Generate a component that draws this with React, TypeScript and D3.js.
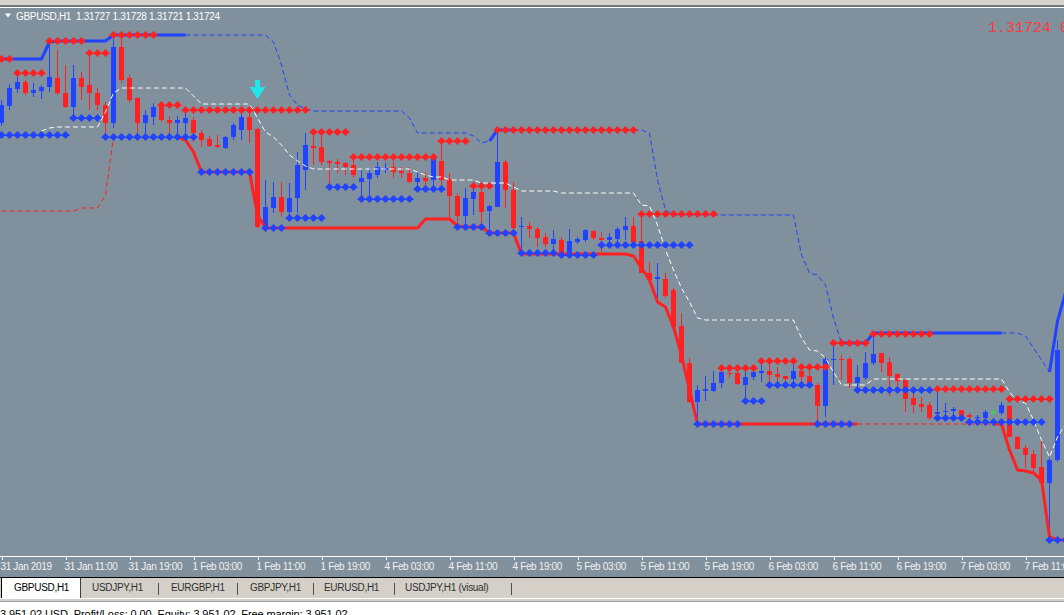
import { useEffect, useRef } from "react";
import * as d3 from "d3";

// GBPUSD H1, bars 0..132 (31 Jan 03:00 onwards)
const OPEN = [
  1.31335, 1.3142, 1.31505, 1.3154, 1.31485, 1.31495, 1.31515, 1.3156, 1.31485, 1.31415,
  1.3156, 1.31525, 1.31485, 1.31425, 1.31335, 1.31715, 1.3156, 1.3146, 1.31335, 1.31365,
  1.31415, 1.3135, 1.31335, 1.31335, 1.3135, 1.31285, 1.31255, 1.31225, 1.3121, 1.31265,
  1.313, 1.31365, 1.31305, 1.30815, 1.3091, 1.30965, 1.3089, 1.3096, 1.311, 1.3122,
  1.31215, 1.31145, 1.3114, 1.31135, 1.31125, 1.3104, 1.31055, 1.31075, 1.311, 1.31115,
  1.31095, 1.31085, 1.3104, 1.3106, 1.3105, 1.31145, 1.31055, 1.3097, 1.3087, 1.30955,
  1.3099, 1.30895, 1.30915, 1.3114, 1.31, 1.30815, 1.3082, 1.30805, 1.30765, 1.3073,
  1.3075, 1.30665, 1.3074, 1.3075, 1.30795, 1.3076, 1.3075, 1.30755, 1.308, 1.3082,
  1.30745, 1.30585, 1.30555, 1.30555, 1.305, 1.3032, 1.30135, 1.2994, 1.29995, 1.29995,
  1.30035, 1.30085, 1.30085, 1.30025, 1.30065, 1.30085, 1.30095, 1.3008, 1.3007, 1.30055,
  1.30095, 1.3007, 1.30025, 1.2992, 1.3015, 1.30155, 1.30155, 1.30035, 1.3006, 1.30135,
  1.30185, 1.3014, 1.3008, 1.3005, 1.2996, 1.2993, 1.29925, 1.2988, 1.2989, 1.29895,
  1.299, 1.29875, 1.2986, 1.2986, 1.2989, 1.29885, 1.2992, 1.29765, 1.2971, 1.2968,
  1.29615, 1.29535, 1.2965,
];
const HIGH = [
  1.3145, 1.3153, 1.31575, 1.3155, 1.31535, 1.31525, 1.31735, 1.317, 1.31625, 1.31625,
  1.3159, 1.31685, 1.3151, 1.3144, 1.3177, 1.31765, 1.31575, 1.31465, 1.314, 1.31435,
  1.31435, 1.3137, 1.3137, 1.3139, 1.31365, 1.313, 1.3127, 1.31275, 1.3127, 1.31335,
  1.31385, 1.314, 1.3131, 1.3105, 1.3104, 1.3104, 1.31035, 1.3119, 1.31285, 1.31285,
  1.31275, 1.3115, 1.31155, 1.3114, 1.31165, 1.311, 1.3111, 1.3114, 1.31135, 1.3114,
  1.31115, 1.31115, 1.3109, 1.3109, 1.31165, 1.31245, 1.31085, 1.30985, 1.3101, 1.31025,
  1.31025, 1.30925, 1.313, 1.3115, 1.3104, 1.30865, 1.3084, 1.30815, 1.30785, 1.308,
  1.30765, 1.30805, 1.30765, 1.30805, 1.308, 1.3079, 1.30785, 1.30815, 1.30865, 1.30865,
  1.30885, 1.3064, 1.30635, 1.30585, 1.3051, 1.30385, 1.3016, 1.30025, 1.3007, 1.30095,
  1.30115, 1.30115, 1.30115, 1.30115, 1.3011, 1.3014, 1.30125, 1.30115, 1.3007, 1.30135,
  1.30125, 1.30115, 1.30035, 1.30165, 1.30235, 1.30175, 1.30165, 1.30125, 1.3019, 1.30265,
  1.30185, 1.30165, 1.30085, 1.3005, 1.3001, 1.29965, 1.2994, 1.3, 1.29935, 1.29915,
  1.299, 1.29885, 1.29875, 1.299, 1.29905, 1.2994, 1.29925, 1.2977, 1.29725, 1.297,
  1.2975, 1.2966, 1.3025,
];
const LOW = [
  1.3132, 1.314, 1.31485, 1.31475, 1.31465, 1.31455, 1.3149, 1.31475, 1.3141, 1.31365,
  1.3145, 1.314, 1.314, 1.3126, 1.3131, 1.31535, 1.3144, 1.3128, 1.31285, 1.31325,
  1.3134, 1.31255, 1.31265, 1.31275, 1.3124, 1.31215, 1.31215, 1.3121, 1.31205, 1.3125,
  1.3125, 1.31235, 1.3081, 1.308, 1.30885, 1.30865, 1.30865, 1.30885, 1.31, 1.31125,
  1.31125, 1.3101, 1.31085, 1.31075, 1.3106, 1.3095, 1.3095, 1.3106, 1.31085, 1.3106,
  1.3106, 1.31035, 1.31, 1.31, 1.31, 1.31, 1.3085, 1.30815, 1.30815, 1.30875,
  1.30815, 1.30785, 1.30915, 1.3091, 1.3079, 1.3069, 1.3076, 1.30715, 1.30715, 1.30685,
  1.3066, 1.3066, 1.3073, 1.3074, 1.3075, 1.3069, 1.30735, 1.30735, 1.3075, 1.30735,
  1.30585, 1.30525, 1.3045, 1.3046, 1.3031, 1.30135, 1.29935, 1.2983, 1.29945, 1.2999,
  1.3001, 1.3006, 1.30025, 1.2994, 1.3005, 1.3004, 1.30025, 1.30025, 1.30025, 1.30025,
  1.30025, 1.3001, 1.29825, 1.29865, 1.30025, 1.3005, 1.3001, 1.3, 1.3005, 1.30125,
  1.3009, 1.2997, 1.3002, 1.2989, 1.29885, 1.2989, 1.2985, 1.29865, 1.29875, 1.29865,
  1.2985, 1.29835, 1.29845, 1.29855, 1.29875, 1.29875, 1.29765, 1.29705, 1.2961, 1.29585,
  1.29535, 1.2925, 1.2964,
];
const CLOSE = [
  1.31425, 1.3151, 1.3154, 1.31485, 1.315, 1.31515, 1.31565, 1.31485, 1.31415, 1.3156,
  1.31515, 1.31485, 1.31425, 1.31335, 1.31715, 1.3155, 1.3145, 1.31335, 1.31375, 1.31415,
  1.3135, 1.31335, 1.3135, 1.3136, 1.31285, 1.3125, 1.3122, 1.31215, 1.31265, 1.31325,
  1.31365, 1.313, 1.30815, 1.30915, 1.30965, 1.3089, 1.3096, 1.31125, 1.31225, 1.3121,
  1.3114, 1.31135, 1.3113, 1.31115, 1.31075, 1.3106, 1.31085, 1.31115, 1.3111, 1.3109,
  1.31085, 1.3104, 1.3106, 1.31045, 1.31155, 1.3105, 1.3097, 1.3087, 1.3096, 1.3099,
  1.3089, 1.3092, 1.3114, 1.31, 1.3081, 1.3082, 1.30805, 1.3076, 1.3073, 1.30755,
  1.30665, 1.30745, 1.30755, 1.308, 1.3076, 1.3075, 1.30765, 1.30805, 1.3082, 1.3074,
  1.30585, 1.3055, 1.30565, 1.3047, 1.30315, 1.30135, 1.2994, 1.3, 1.30005, 1.30035,
  1.3009, 1.3008, 1.3003, 1.30065, 1.3009, 1.30095, 1.30075, 1.30065, 1.30055, 1.30095,
  1.30065, 1.30025, 1.2992, 1.30155, 1.30155, 1.3015, 1.30035, 1.30065, 1.30135, 1.3018,
  1.30135, 1.3007, 1.30045, 1.29955, 1.29925, 1.29915, 1.2986, 1.2989, 1.29895, 1.29905,
  1.2987, 1.29865, 1.29865, 1.2989, 1.2989, 1.29925, 1.29765, 1.29705, 1.29675, 1.2961,
  1.29535, 1.2965, 1.302,
];

// channel indicator, bars 0..133
const UPPER = [
  1.31655, 1.31655, 1.31655, 1.31655, 1.31655, 1.31655, 1.3174, 1.31745, 1.31745, 1.31745,
  1.31745, 1.31745, 1.31745, 1.31745, 1.31775, 1.31775, 1.31775, 1.31775, 1.31775, 1.31775,
  1.31775, 1.31775, 1.31775, 1.31775, 1.31775, 1.31775, 1.31775, 1.31775, 1.31775, 1.31775,
  1.31775, 1.31775, 1.31775, 1.31775, 1.3174, 1.31625, 1.31475, 1.31425, 1.31405, 1.31395,
  1.31395, 1.31395, 1.31395, 1.31395, 1.31395, 1.31395, 1.31395, 1.31395, 1.31395, 1.31395,
  1.31395, 1.3136, 1.31285, 1.31285, 1.31285, 1.31285, 1.31285, 1.31285, 1.31285, 1.3127,
  1.31235, 1.31245, 1.313, 1.313, 1.313, 1.313, 1.313, 1.313, 1.313, 1.313,
  1.313, 1.313, 1.313, 1.313, 1.313, 1.313, 1.313, 1.313, 1.313, 1.313,
  1.313, 1.31285, 1.3105, 1.309, 1.30875, 1.30875, 1.30875, 1.30875, 1.30875, 1.30875,
  1.30875, 1.30875, 1.30875, 1.30875, 1.30875, 1.30875, 1.30875, 1.30875, 1.30875, 1.30875,
  1.30675, 1.30585, 1.30575, 1.30525, 1.3036, 1.30235, 1.30235, 1.30235, 1.30235, 1.30285,
  1.30285, 1.30285, 1.30285, 1.30285, 1.30285, 1.30285, 1.30285, 1.30285, 1.30285, 1.30285,
  1.30285, 1.30285, 1.30285, 1.30285, 1.30285, 1.30285, 1.30285, 1.30285, 1.3027, 1.3021,
  1.3015, 1.3009, 1.30345, 1.30485,
];
const LOWER = [
  1.30895, 1.30895, 1.30895, 1.30895, 1.30895, 1.30895, 1.30895, 1.30895, 1.30895, 1.30895,
  1.3091, 1.3091, 1.3091, 1.30975, 1.31265, 1.31265, 1.31265, 1.31265, 1.31265, 1.31265,
  1.31265, 1.31265, 1.31265, 1.3125, 1.3119, 1.3109, 1.3109, 1.3109, 1.3109, 1.3109,
  1.3109, 1.3109, 1.30875, 1.3081, 1.3081, 1.3081, 1.3081, 1.3081, 1.3081, 1.3081,
  1.3081, 1.3081, 1.3081, 1.3081, 1.3081, 1.3081, 1.3081, 1.3081, 1.3081, 1.3081,
  1.3081, 1.3081, 1.3081, 1.30855, 1.30855, 1.30855, 1.30855, 1.3082, 1.30815, 1.30815,
  1.30815, 1.30785, 1.30785, 1.30785, 1.30785, 1.3068, 1.3068, 1.3068, 1.3068, 1.3068,
  1.3068, 1.3068, 1.3068, 1.3068, 1.3068, 1.3068, 1.3068, 1.3068, 1.3068, 1.3067,
  1.3061, 1.3055, 1.3044, 1.30415, 1.30315, 1.30175, 1.3, 1.2983, 1.2983, 1.2983,
  1.2983, 1.2983, 1.2983, 1.2983, 1.2983, 1.2983, 1.2983, 1.2983, 1.2983, 1.2983,
  1.2983, 1.2983, 1.2983, 1.2983, 1.2983, 1.2983, 1.2983, 1.2983, 1.2983, 1.2983,
  1.2983, 1.2983, 1.2983, 1.2983, 1.2983, 1.2983, 1.2983, 1.2983, 1.2983, 1.2983,
  1.2983, 1.2983, 1.2983, 1.2983, 1.2983, 1.2983, 1.297, 1.296, 1.29595, 1.29585,
  1.2955, 1.29265, 1.2925, 1.2925,
];
const MIDDLE: (number | null)[] = [
  null, null, null, null, null, 1.31295, 1.3131, 1.31315, 1.31315, 1.31315,
  1.31315, 1.31315, 1.31315, 1.3139, 1.31485, 1.3151, 1.3151, 1.3151, 1.3151, 1.3151,
  1.3151, 1.3151, 1.3151, 1.3151, 1.3147, 1.3143, 1.3143, 1.3143, 1.3143, 1.3143,
  1.3143, 1.3143, 1.3136, 1.3129, 1.31265, 1.31225, 1.31175, 1.31145, 1.3112, 1.31105,
  1.31105, 1.31105, 1.31105, 1.31105, 1.31105, 1.31105, 1.31105, 1.31105, 1.31105, 1.31105,
  1.31105, 1.31105, 1.3109, 1.31075, 1.31065, 1.31065, 1.3105, 1.3105, 1.3105, 1.3105,
  1.31035, 1.31035, 1.31035, 1.31035, 1.31015, 1.30995, 1.30995, 1.30995, 1.30995, 1.30995,
  1.30985, 1.30985, 1.30985, 1.30985, 1.30985, 1.30985, 1.30985, 1.30985, 1.30985, 1.30985,
  1.30925, 1.3092, 1.30825, 1.307, 1.306, 1.3051, 1.3044, 1.3036, 1.3035, 1.3035,
  1.3035, 1.3035, 1.3035, 1.3035, 1.3035, 1.3035, 1.3035, 1.3035, 1.3035, 1.3035,
  1.3026, 1.302, 1.30195, 1.3016, 1.3009, 1.30025, 1.30025, 1.30025, 1.30025, 1.30055,
  1.30055, 1.30055, 1.30055, 1.30055, 1.30055, 1.30055, 1.30055, 1.30055, 1.30055, 1.30055,
  1.30055, 1.30055, 1.30055, 1.30055, 1.30055, 1.30055, 1.2999, 1.29945, 1.29935, 1.2985,
  1.2975, 1.29665, 1.29765, 1.2983,
];

// bar ranges where the channel lines are active (drawn solid)
const UPPER_ACTIVE: [number, number][] = [[0, 23], [61, 64], [105, 125], [131, 133]];
const LOWER_ACTIVE: [number, number][] = [[22, 107], [124, 133]];

// [first bar, last bar, price]
const RESISTANCE: [number, number, number][] = [
  [0, 1, 1.31655], [2, 5, 1.31585], [6, 10, 1.31745], [11, 13, 1.31685], [14, 19, 1.31775],
  [20, 22, 1.31425], [23, 38, 1.314], [39, 43, 1.3129], [44, 54, 1.31165], [55, 58, 1.31245],
  [59, 61, 1.3102], [62, 79, 1.313], [80, 89, 1.3088], [90, 94, 1.3011], [95, 99, 1.30145],
  [100, 103, 1.30115], [104, 108, 1.30235], [109, 116, 1.3028], [117, 125, 1.30005],
  [126, 131, 1.29955],
];
const SUPPORT: [number, number, number][] = [
  [0, 8, 1.31275], [9, 12, 1.3136], [13, 24, 1.31265], [25, 31, 1.3109], [33, 35, 1.3081],
  [36, 40, 1.3086], [41, 44, 1.31015], [45, 51, 1.30955], [52, 55, 1.31005], [57, 60, 1.30815],
  [61, 64, 1.30785], [65, 69, 1.30685], [70, 74, 1.30675], [75, 86, 1.30725], [87, 92, 1.2983],
  [93, 95, 1.29945], [96, 101, 1.30025], [102, 106, 1.2983], [107, 116, 1.3], [117, 120, 1.2986],
  [121, 130, 1.2984], [131, 133, 1.2925],
];

const SELL_SIGNAL_BAR = 32;
const SELL_SIGNAL_PRICE = 1.31455;

const TIME_BARS = [0, 8, 16, 24, 32, 40, 48, 56, 64, 72, 80, 88, 96, 104, 112, 120, 128];
const TIME_LABELS = [
  "31 Jan 2019", "31 Jan 11:00", "31 Jan 19:00", "1 Feb 03:00", "1 Feb 11:00", "1 Feb 19:00",
  "4 Feb 03:00", "4 Feb 11:00", "4 Feb 19:00", "5 Feb 03:00", "5 Feb 11:00", "5 Feb 19:00",
  "6 Feb 03:00", "6 Feb 11:00", "6 Feb 19:00", "7 Feb 03:00", "7 Feb 11:00",
];
const TABS = ["GBPUSD,H1", "USDJPY,H1", "EURGBP,H1", "GBPJPY,H1", "EURUSD,H1", "USDJPY,H1 (visual)"];
const HEADER_OHLC = ["1.31727", "1.31728", "1.31721", "1.31724"];

const BG = "#80909c";
const RED = "#ff2121";
const BLUE = "#2142ff";
const FONT = "'Liberation Sans', Arial, sans-serif";

function splitRanges(active: [number, number][], last: number) {
  const out: { a: number; b: number; solid: boolean }[] = [];
  let prev = 0;
  active.forEach(([a, b]) => {
    if (a > prev) out.push({ a: prev, b: a, solid: false });
    out.push({ a, b, solid: true });
    prev = b;
  });
  if (prev < last) out.push({ a: prev, b: last, solid: false });
  return out;
}

export default function App() {
  const svgRef = useRef<SVGSVGElement>(null);

  useEffect(() => {
    if (!svgRef.current) return;
    document.body.style.margin = "0";

    const width = 1064;
    const height = 615;
    const svg = d3.select(svgRef.current);
    svg.selectAll("*").remove();

    const x = d3.scaleLinear().domain([0, 133]).range([1.5, 1065.5]);
    const y = d3.scaleLinear().domain([1.2925, 1.318]).range([540, 30]);

    // window frame
    svg.append("rect").attr("width", width).attr("height", height).attr("fill", "#ffffff");
    svg.append("rect").attr("width", width).attr("height", 5).attr("fill", "#d6d3ce");
    svg.append("rect").attr("y", 5).attr("width", width).attr("height", 2).attr("fill", "#6e767e");
    svg.append("rect").attr("y", 8).attr("width", width).attr("height", 569).attr("fill", BG);

    svg.append("defs").append("clipPath").attr("id", "plot")
      .append("rect").attr("x", 0).attr("y", 8).attr("width", width).attr("height", 546);
    const plot = svg.append("g").attr("clip-path", "url(#plot)");

    // candles
    const candles = plot.append("g").attr("shape-rendering", "crispEdges");
    OPEN.forEach((o, i) => {
      const c = CLOSE[i];
      const col = c > o ? BLUE : c < o ? RED : "#2ee82e";
      const cx = x(i);
      candles.append("line")
        .attr("x1", cx).attr("x2", cx)
        .attr("y1", y(HIGH[i])).attr("y2", y(LOW[i]))
        .attr("stroke", col).attr("stroke-width", 1);
      const top = y(Math.max(o, c));
      const h = Math.max(1, Math.abs(y(o) - y(c)));
      candles.append("rect")
        .attr("x", cx - 2.5).attr("y", top)
        .attr("width", 5).attr("height", h)
        .attr("fill", col);
    });

    // channel lines
    const seg = (vals: (number | null)[], a: number, b: number) =>
      d3.line<number>()
        .defined((i) => vals[i] != null)
        .x((i) => x(i))
        .y((i) => y(vals[i] as number))(d3.range(a, b + 1));

    plot.append("path")
      .attr("d", seg(MIDDLE, 0, 133))
      .attr("fill", "none").attr("stroke", "#ffffff")
      .attr("stroke-width", 1).attr("stroke-dasharray", "5,3");

    const drawChannel = (vals: number[], active: [number, number][], col: string) => {
      const parts = splitRanges(active, vals.length - 1);
      parts.filter((p) => !p.solid).forEach((p) => {
        plot.append("path")
          .attr("d", seg(vals, p.a, p.b))
          .attr("fill", "none").attr("stroke", col)
          .attr("stroke-width", 1).attr("stroke-dasharray", "5,3");
      });
      parts.filter((p) => p.solid).forEach((p) => {
        plot.append("path")
          .attr("d", seg(vals, p.a, p.b))
          .attr("fill", "none").attr("stroke", col)
          .attr("stroke-width", 3).attr("stroke-linejoin", "round");
      });
    };
    drawChannel(LOWER, LOWER_ACTIVE, RED);
    drawChannel(UPPER, UPPER_ACTIVE, BLUE);

    // support / resistance dots
    const drawLevels = (rows: [number, number, number][], col: string) => {
      rows.forEach(([a, b, p]) => {
        const cy = y(p);
        plot.append("line")
          .attr("x1", x(a) - 4).attr("x2", x(b) + 4)
          .attr("y1", Math.round(cy) + 0.5).attr("y2", Math.round(cy) + 0.5)
          .attr("stroke", col).attr("stroke-width", 1);
        d3.range(a, b + 1).forEach((i) => {
          const cx = x(i);
          plot.append("path")
            .attr("d", `M${cx},${cy - 4}L${cx + 4},${cy}L${cx},${cy + 4}L${cx - 4},${cy}Z`)
            .attr("fill", col);
        });
      });
    };
    drawLevels(RESISTANCE, RED);
    drawLevels(SUPPORT, BLUE);

    // sell arrow
    const ax0 = x(SELL_SIGNAL_BAR);
    const tip = y(SELL_SIGNAL_PRICE);
    plot.append("rect")
      .attr("x", ax0 - 2.5).attr("y", tip - 19).attr("width", 5).attr("height", 13)
      .attr("fill", "#22e6ee");
    plot.append("path")
      .attr("d", `M${ax0 - 8},${tip - 12}L${ax0 - 3.5},${tip - 12}L${ax0},${tip - 7}L${ax0 + 3.5},${tip - 12}L${ax0 + 8},${tip - 12}L${ax0},${tip}Z`)
      .attr("fill", "#22e6ee");

    // header
    svg.append("path").attr("d", "M5,13.5L11,13.5L8,17.5Z").attr("fill", "#ffffff");
    const header = svg.append("text")
      .attr("x", 16).attr("y", 19.5)
      .attr("font-family", FONT).attr("font-size", 10)
      .attr("letter-spacing", "-0.3px")
      .attr("fill", "#ffffff")
      .style("white-space", "pre");
    header.text(`GBPUSD,H1  ${HEADER_OHLC.join(" ")}`);

    svg.append("text")
      .attr("x", 988).attr("y", 32)
      .attr("font-family", "'Liberation Mono', 'Courier New', monospace")
      .attr("font-size", 15)
      .attr("fill", "#ff3a3a")
      .text(`${HEADER_OHLC[3]} 0`);

    // time axis
    const axis = d3.axisBottom(x)
      .tickValues(TIME_BARS)
      .tickFormat((_, i) => TIME_LABELS[i])
      .tickSize(3)
      .tickSizeOuter(0);
    const axG = svg.append("g").attr("transform", "translate(0,556.5)").call(axis);
    axG.select(".domain").remove();
    axG.append("line").attr("x1", 0).attr("x2", width).attr("y1", 0).attr("y2", 0)
      .attr("stroke", "#ffffff");
    axG.selectAll(".tick line").attr("stroke", "#ffffff").attr("shape-rendering", "crispEdges");
    axG.selectAll(".tick text")
      .attr("fill", "#f2f2f2")
      .attr("text-anchor", "start")
      .attr("x", -1.5)
      .attr("font-family", FONT)
      .attr("font-size", 10)
      .attr("letter-spacing", "-0.35px");

    // tab bar
    svg.append("rect").attr("y", 577).attr("width", width).attr("height", 1).attr("fill", "#000000");
    svg.append("rect").attr("y", 578).attr("width", width).attr("height", 20).attr("fill", "#d4d0c8");
    svg.append("rect").attr("y", 598).attr("width", width).attr("height", 1).attr("fill", "#ffffff");
    svg.append("rect").attr("y", 599).attr("width", width).attr("height", 2).attr("fill", "#d4d0c8");
    svg.append("rect").attr("y", 601).attr("width", width).attr("height", 1).attr("fill", "#9c9c9c");

    svg.append("rect").attr("x", 1).attr("y", 578).attr("width", 79).attr("height", 20).attr("fill", "#ffffff");
    svg.append("rect").attr("x", 1).attr("y", 578).attr("width", 1).attr("height", 20).attr("fill", "#000000");
    svg.append("rect").attr("x", 80).attr("y", 578).attr("width", 1).attr("height", 20).attr("fill", "#404040");

    const tabX = [14, 92, 171, 250, 324, 405];
    const sepX = [158, 237, 313, 394, 511];
    TABS.forEach((t, i) => {
      svg.append("text")
        .attr("x", tabX[i]).attr("y", 591)
        .attr("font-family", FONT).attr("font-size", 10)
        .attr("letter-spacing", "-0.3px")
        .attr("fill", i === 0 ? "#000000" : "#303030")
        .text(t);
    });
    sepX.forEach((sx) => {
      svg.append("rect").attr("x", sx).attr("y", 583).attr("width", 1).attr("height", 12).attr("fill", "#505050");
    });

    // status bar (cut off at the bottom)
    svg.append("text")
      .attr("x", 0).attr("y", 618)
      .attr("font-family", FONT).attr("font-size", 11)
      .attr("letter-spacing", "-0.1px")
      .attr("fill", "#000000")
      .style("white-space", "pre")
      .text("3 951.02 USD  Profit/Loss: 0.00  Equity: 3 951.02  Free margin: 3 951.02");
  }, []);

  return <svg ref={svgRef} width={1064} height={615} style={{ display: "block" }} />;
}
